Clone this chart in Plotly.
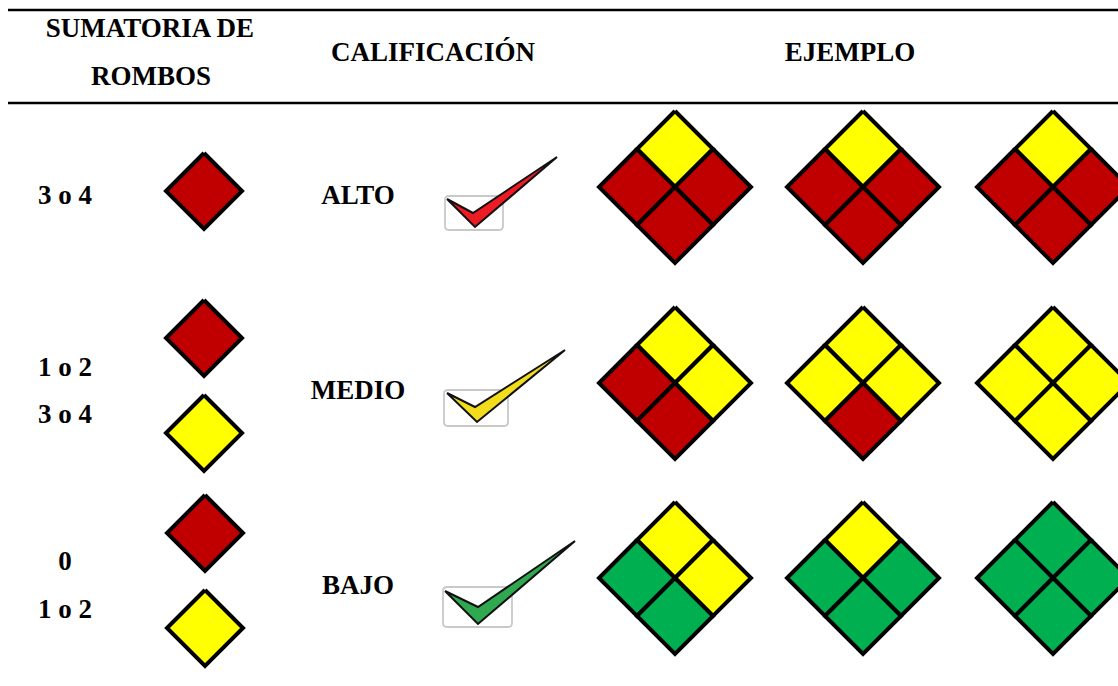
import plotly.graph_objects as go

# ---- content ----
RED, YEL, GRN = "#c00000", "#ffff00", "#00b050"
headers = ["SUMATORIA DE", "ROMBOS", "CALIFICACIÓN", "EJEMPLO"]
header_x = [150, 151, 433, 850]
header_y = [30, 78, 54, 54]
sum_labels = ["3 o 4", "1 o 2", "3 o 4", "0", "1 o 2"]
sum_label_y = [197, 369, 416, 563, 611]
ratings = ["ALTO", "MEDIO", "BAJO"]
rating_x = [358, 358, 358]
rating_y = [197, 392, 587]
key_colors = [RED, RED, YEL, RED, YEL]
key_x = [204, 204, 204, 205, 205]
key_y = [191, 338, 433, 533, 628]
example_x = [675, 863, 1053]
example_y = [187, 383, 578]
# each example: top, left, right, bottom
examples = [
    [[YEL, RED, RED, RED], [YEL, RED, RED, RED], [YEL, RED, RED, RED]],
    [[YEL, RED, YEL, RED], [YEL, YEL, YEL, RED], [YEL, YEL, YEL, YEL]],
    [[YEL, GRN, YEL, GRN], [YEL, GRN, GRN, GRN], [GRN, GRN, GRN, GRN]],
]
check_colors = ["#ed1c24", "#f2dc1c", "#2fa84f"]
check_x = [[447, 473, 557, 475], [447, 475, 565, 477], [445, 478, 575, 478]]
check_y = [[199, 213, 157, 227], [393, 407, 350, 422], [591, 607, 541, 624]]
box_x = [[445, 503], [444, 508], [443, 512]]
box_y = [[196, 230], [390, 426], [587, 627]]
rule_y = [10, 103]

SMALL = 38
FONT = dict(family="Liberation Serif", size=27, color="#000000")

fig = go.Figure()


def diamond(cx, cy, color, half=SMALL):
    fig.add_trace(go.Scatter(
        x=[cx, cx + half, cx, cx - half, cx],
        y=[cy - half, cy, cy + half, cy, cy - half],
        mode="lines", fill="toself", fillcolor=color,
        line=dict(color="#000000", width=4), hoverinfo="skip",
        showlegend=False))


for cx, cy, col in zip(key_x, key_y, key_colors):
    diamond(cx, cy, col)

for cy, row in zip(example_y, examples):
    for cx, cols in zip(example_x, row):
        offs = [(0, -SMALL), (-SMALL, 0), (SMALL, 0), (0, SMALL)]
        for (dx, dy), col in zip(offs, cols):
            diamond(cx + dx, cy + dy, col)

# rating check-marks
for bx, by in zip(box_x, box_y):
    r = 4
    fig.add_shape(type="path", xref="x", yref="y",
                  path=f"M{bx[0]+r},{by[0]} L{bx[1]-r},{by[0]} Q{bx[1]},{by[0]} {bx[1]},{by[0]+r} "
                       f"L{bx[1]},{by[1]-r} Q{bx[1]},{by[1]} {bx[1]-r},{by[1]} L{bx[0]+r},{by[1]} "
                       f"Q{bx[0]},{by[1]} {bx[0]},{by[1]-r} L{bx[0]},{by[0]+r} Q{bx[0]},{by[0]} {bx[0]+r},{by[0]} Z",
                  line=dict(color="#c9c9c9", width=1.8), layer="below")
for xs, ys, col in zip(check_x, check_y, check_colors):
    fig.add_trace(go.Scatter(x=xs + xs[:1], y=ys + ys[:1], mode="lines", fill="toself",
                             fillcolor=col, line=dict(color="#111111", width=2),
                             hoverinfo="skip", showlegend=False))

# rules
for y in rule_y:
    fig.add_trace(go.Scatter(x=[8, 1118], y=[y, y], mode="lines",
                             line=dict(color="#000000", width=2.4), hoverinfo="skip",
                             showlegend=False))

# text
fig.add_trace(go.Scatter(
    x=header_x + [65] * len(sum_labels) + rating_x,
    y=header_y + sum_label_y + rating_y,
    text=[f"<b>{t}</b>" for t in headers + sum_labels + ratings],
    mode="text", textposition="middle center", textfont=FONT,
    hoverinfo="skip", showlegend=False))

fig.update_layout(
    width=1118, height=686, margin=dict(l=0, r=0, t=0, b=0),
    paper_bgcolor="#ffffff", plot_bgcolor="#ffffff",
    xaxis=dict(range=[0, 1118], visible=False, fixedrange=True),
    yaxis=dict(range=[686, 0], visible=False, fixedrange=True),
)
fig.write_html("out.html", post_script="document.body.style.margin='0';document.documentElement.style.overflow='hidden';",
               config={"displayModeBar": False})
